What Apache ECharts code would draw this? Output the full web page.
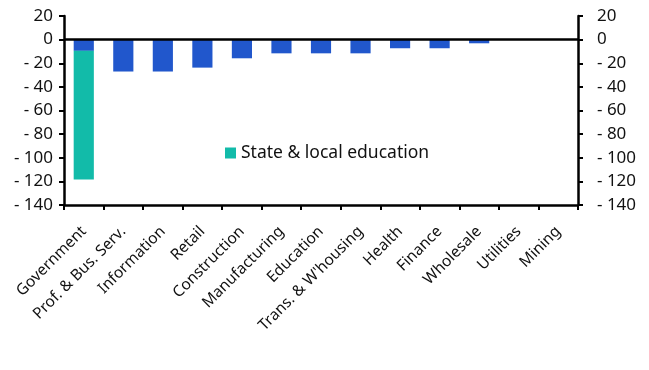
<!DOCTYPE html>
<html><head><meta charset="utf-8">
<script src="https://cdn.jsdelivr.net/npm/echarts@6/dist/echarts.min.js"></script>
<style>html,body{margin:0;padding:0;background:#fff}#c{width:649px;height:370px}</style>
</head><body><div id="c"></div>
<script>
const categories = ["Government","Prof. & Bus. Serv.","Information","Retail","Construction","Manufacturing","Education","Trans. & W'housing","Health","Finance","Wholesale","Utilities","Mining"];
const totalOther = [-9.5,-27,-27,-23.7,-15.8,-11.6,-11.6,-11.6,-7.3,-7.3,-3.1,-0.2,-0.2];
const stateLocalEdu = [-109,null,null,null,null,null,null,null,null,null,null,null,null];
const yTicks = {min:-140,max:20,interval:20};

const font = "'Noto Sans', sans-serif";
const axisStyle = {lineStyle:{color:'#000',width:2.5}};
const fmt = v => v < 0 ? '- ' + Math.abs(v) : String(v);
const yLabel = {color:'#111',fontSize:17,fontFamily:font,formatter:fmt};
const chart = echarts.init(document.getElementById('c'));
chart.setOption({
  animation:false,
  grid:{left:64,right:71,top:16,bottom:165,containLabel:false},
  legend:{data:['State & local education'],left:220,top:139,itemWidth:11,itemHeight:11,itemGap:5,icon:'rect',
    textStyle:{fontSize:17.5,fontFamily:font,color:'#111'}},
  xAxis:{type:'category',data:categories,
    axisLine:{show:true,onZero:false,lineStyle:{color:'#000',width:2.5}},
    axisTick:{show:true,alignWithLabel:false,length:5,lineStyle:{color:'#000',width:2}},
    axisLabel:{rotate:45,interval:0,fontSize:15.5,fontFamily:font,color:'#111',margin:24}},
  yAxis:[
    {type:'value',position:'left',min:yTicks.min,max:yTicks.max,interval:yTicks.interval,
     splitLine:{show:false},axisLine:{show:true,...axisStyle},
     axisTick:{show:true,length:5,lineStyle:{color:'#000',width:2}},
     axisLabel:{...yLabel,margin:11}},
    {type:'value',position:'right',min:yTicks.min,max:yTicks.max,interval:yTicks.interval,
     splitLine:{show:false},axisLine:{show:true,...axisStyle},
     axisTick:{show:true,length:5,lineStyle:{color:'#000',width:2}},
     axisLabel:{...yLabel,margin:19}}
  ],
  series:[
    {name:'Other',type:'bar',stack:'a',data:totalOther,barWidth:'51%',itemStyle:{color:'#2157cc'},
     markLine:{silent:true,symbol:'none',label:{show:false},lineStyle:{color:'#000',width:2.5,type:'solid'},data:[{yAxis:0}]}},
    {name:'State & local education',type:'bar',stack:'a',data:stateLocalEdu,barWidth:'51%',itemStyle:{color:'#12bba9'}}
  ]
});
</script></body></html>
